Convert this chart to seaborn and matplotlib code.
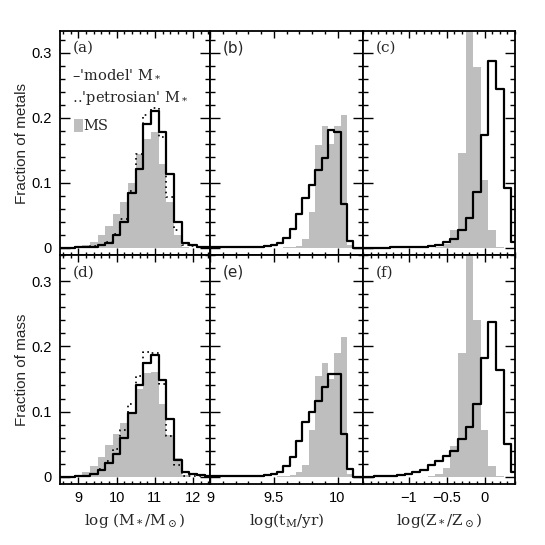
import numpy as np
import pandas as pd
import matplotlib
matplotlib.use("Agg")
import matplotlib.pyplot as plt
import seaborn as sns
from matplotlib.ticker import MultipleLocator
from matplotlib.patches import Rectangle

# ---------------- data ----------------
# stellar mass bins (log M*/Msun), width 0.2
mass_centers = [8.6, 8.8, 9.0, 9.2, 9.4, 9.6, 9.8, 10.0, 10.2, 10.4,
                10.6, 10.8, 11.0, 11.2, 11.4, 11.6, 11.8, 12.0, 12.2, 12.4]
model_mass_metals = [0.000, 0.000, 0.001, 0.001, 0.002, 0.005, 0.008, 0.020, 0.040, 0.084,
                     0.122, 0.190, 0.210, 0.178, 0.114, 0.040, 0.007, 0.004, 0.002, 0.001]
petro_mass_metals = [0.000, 0.000, 0.001, 0.001, 0.003, 0.005, 0.009, 0.022, 0.045, 0.088,
                     0.145, 0.204, 0.215, 0.170, 0.078, 0.027, 0.004, 0.003, 0.002, 0.001]
ms_mass_metals = [0.000, 0.000, 0.001, 0.004, 0.009, 0.019, 0.033, 0.052, 0.071, 0.100,
                  0.145, 0.168, 0.178, 0.129, 0.070, 0.019, 0.002, 0.000, 0.000, 0.000]
model_mass_mass = [0.000, 0.000, 0.001, 0.002, 0.005, 0.011, 0.021, 0.035, 0.060, 0.098,
                   0.140, 0.175, 0.187, 0.149, 0.088, 0.026, 0.008, 0.004, 0.003, 0.001]
petro_mass_mass = [0.000, 0.000, 0.001, 0.002, 0.005, 0.012, 0.024, 0.042, 0.072, 0.112,
                   0.155, 0.191, 0.190, 0.142, 0.062, 0.018, 0.002, 0.002, 0.001, 0.001]
ms_mass_mass = [0.000, 0.000, 0.002, 0.007, 0.017, 0.031, 0.049, 0.066, 0.082, 0.099,
                0.134, 0.159, 0.160, 0.112, 0.064, 0.029, 0.003, 0.000, 0.000, 0.000]

# age bins (log t_M/yr), width 0.05
age_centers = [9.00, 9.05, 9.10, 9.15, 9.20, 9.25, 9.30, 9.35, 9.40, 9.45,
               9.50, 9.55, 9.60, 9.65, 9.70, 9.75, 9.80, 9.85, 9.90, 9.95,
               10.00, 10.05, 10.10, 10.15, 10.20]
model_age_metals = [0.001, 0.001, 0.001, 0.001, 0.001, 0.001, 0.001, 0.002, 0.002, 0.003,
                    0.005, 0.007, 0.015, 0.029, 0.052, 0.077, 0.096, 0.119, 0.138, 0.181,
                    0.178, 0.068, 0.010, 0.000, 0.000]
ms_age_metals = [0.000, 0.000, 0.000, 0.000, 0.000, 0.000, 0.000, 0.000, 0.000, 0.000,
                 0.000, 0.000, 0.001, 0.002, 0.003, 0.014, 0.055, 0.158, 0.187, 0.160,
                 0.187, 0.205, 0.004, 0.000, 0.000]
model_age_mass = [0.001, 0.001, 0.001, 0.001, 0.001, 0.001, 0.002, 0.002, 0.002, 0.003,
                  0.005, 0.008, 0.017, 0.031, 0.055, 0.084, 0.100, 0.116, 0.138, 0.158,
                  0.157, 0.065, 0.012, 0.000, 0.000]
ms_age_mass = [0.000, 0.000, 0.000, 0.000, 0.000, 0.000, 0.000, 0.000, 0.000, 0.000,
               0.000, 0.001, 0.002, 0.003, 0.008, 0.018, 0.072, 0.155, 0.175, 0.150,
               0.190, 0.215, 0.005, 0.000, 0.000]

# metallicity bins (log Z*/Zsun), width 0.1
z_centers = [-1.6, -1.5, -1.4, -1.3, -1.2, -1.1, -1.0, -0.9, -0.8, -0.7, -0.6,
             -0.5, -0.4, -0.3, -0.2, -0.1, 0.0, 0.1, 0.2, 0.3, 0.4]
model_z_metals = [0.000, 0.000, 0.000, 0.000, 0.001, 0.001, 0.001, 0.001, 0.001, 0.003, 0.005,
                  0.009, 0.014, 0.028, 0.046, 0.086, 0.174, 0.287, 0.244, 0.092, 0.009]
ms_z_metals = [0.000, 0.000, 0.000, 0.000, 0.000, 0.000, 0.000, 0.000, 0.000, 0.000, 0.001,
               0.006, 0.028, 0.146, 0.360, 0.278, 0.104, 0.027, 0.002, 0.000, 0.000]
model_z_mass = [0.000, 0.000, 0.001, 0.001, 0.002, 0.003, 0.005, 0.007, 0.011, 0.018, 0.025,
                0.032, 0.039, 0.058, 0.076, 0.112, 0.182, 0.238, 0.164, 0.051, 0.007]
ms_z_mass = [0.000, 0.000, 0.000, 0.000, 0.000, 0.000, 0.000, 0.000, 0.000, 0.001, 0.004,
             0.013, 0.048, 0.190, 0.370, 0.240, 0.072, 0.016, 0.002, 0.000, 0.000]

row_labels = ["Fraction of metals", "Fraction of mass"]
panel_tags = ["(a)", "(b)", "(c)", "(d)", "(e)", "(f)"]

# ---------------- style ----------------
sns.set_theme(style="ticks")
plt.rcParams["font.family"] = ["Liberation Sans", "DejaVu Sans"]
plt.rcParams["mathtext.fontset"] = "dejavuserif"
GRAY = "#bebebe"
SERIF = ["DejaVu Serif"]


def edges_from(centers, w):
    c = np.asarray(centers, dtype=float)
    return [float(v) for v in np.append(c - w / 2.0, c[-1] + w / 2.0)]


def hist(ax, centers, values, bins, **kw):
    df = pd.DataFrame({"x": centers, "w": values})
    sns.histplot(data=df, x="x", weights="w", bins=bins, element="step",
                 stat="count", ax=ax, **kw)


fig = plt.figure(figsize=(5.45, 5.45), dpi=100)
W, H = 545.0, 545.0
xb = [60, 210, 363, 515]
rows_px = [(31, 255), (255, 484)]
ylims = [(-0.011, 0.3335), (-0.011, 0.340)]

cols = [
    dict(centers=mass_centers, w=0.2, xlim=(8.52, 12.44), major=[9, 10, 11, 12],
         labels=["9", "10", "11", "12"], minor=0.2,
         xlabel=r"log (M$_*$/M$_\odot$)"),
    dict(centers=age_centers, w=0.05, xlim=(9.0, 10.2), major=[9, 9.5, 10],
         labels=["9", "9.5", "10"], minor=0.1,
         xlabel=r"log(t$_{\rm M}$/yr)"),
    dict(centers=z_centers, w=0.1, xlim=(-1.6, 0.4), major=[-1, -0.5, 0],
         labels=["\u22121", "\u22120.5", "0"], minor=0.1,
         xlabel=r"log(Z$_*$/Z$_\odot$)"),
]

series = {
    (0, 0): (ms_mass_metals, model_mass_metals, petro_mass_metals),
    (0, 1): (ms_age_metals, model_age_metals, None),
    (0, 2): (ms_z_metals, model_z_metals, None),
    (1, 0): (ms_mass_mass, model_mass_mass, petro_mass_mass),
    (1, 1): (ms_age_mass, model_age_mass, None),
    (1, 2): (ms_z_mass, model_z_mass, None),
}

for r in range(2):
    top, bot = rows_px[r]
    for c in range(3):
        col = cols[c]
        ax = fig.add_axes([xb[c] / W, 1 - bot / H, (xb[c + 1] - xb[c]) / W, (bot - top) / H])
        ms, model, petro = series[(r, c)]
        bins = edges_from(col["centers"], col["w"])
        hist(ax, col["centers"], ms, bins, fill=True, color=GRAY, alpha=1,
             linewidth=0, zorder=1)
        if petro is not None:
            hist(ax, col["centers"], petro, bins, fill=False, color="black",
                 linewidth=1.2, linestyle=(0, (1, 2.2)), zorder=2)
        hist(ax, col["centers"], model, bins, fill=False, color="black",
             linewidth=1.6, zorder=3)
        ax.set_xlim(*col["xlim"])
        ax.set_ylim(*ylims[r])
        ax.set_xticks(col["major"])
        ax.xaxis.set_minor_locator(MultipleLocator(col["minor"]))
        ax.set_yticks([0, 0.1, 0.2, 0.3])
        ax.yaxis.set_minor_locator(MultipleLocator(0.02))
        ax.tick_params(which="both", direction="in", top=True, right=True,
                       labelsize=10.5, width=1.0, colors="black")
        ax.tick_params(axis="y", which="major", length=7, pad=6)
        ax.tick_params(axis="y", which="minor", length=3.5)
        ax.tick_params(axis="x", which="major", length=5, pad=5)
        ax.tick_params(axis="x", which="minor", length=2.5)
        for sp in ax.spines.values():
            sp.set_linewidth(1.3)
            sp.set_color("black")
        if c == 0:
            ax.set_yticklabels(["0", "0.1", "0.2", "0.3"])
            ax.set_ylabel(row_labels[r], fontsize=11)
            ax.yaxis.set_label_coords(-0.205, 0.5)
        else:
            ax.set_yticklabels([])
            ax.set_ylabel("")
        if r == 1:
            ax.set_xticklabels(col["labels"])
            ax.set_xlabel(col["xlabel"], fontsize=11, family=SERIF)
            ax.xaxis.set_label_coords(0.5, -0.118)
        else:
            ax.set_xticklabels([])
            ax.set_xlabel("")
        tag = panel_tags[r * 3 + c]
        fam = ["DejaVu Sans"] if c == 1 else SERIF
        ax.text(0.085, 0.925, tag, transform=ax.transAxes, ha="left", va="center",
                fontsize=11, family=fam)
        if r == 0 and c == 0:
            ax.text(0.08, 0.81, "\u2013'model' M$_*$", transform=ax.transAxes,
                    ha="left", va="center", fontsize=10.5, family=SERIF)
            ax.text(0.08, 0.70, "\u2025'petrosian' M$_*$", transform=ax.transAxes,
                    ha="left", va="center", fontsize=10.5, family=SERIF)
            ax.add_patch(Rectangle((0.095, 0.548), 0.055, 0.06, transform=ax.transAxes,
                                   facecolor=GRAY, edgecolor="none"))
            ax.text(0.155, 0.578, "MS", transform=ax.transAxes, ha="left", va="center",
                    fontsize=10.5, family=SERIF)

fig.savefig("out.png", dpi=100)
